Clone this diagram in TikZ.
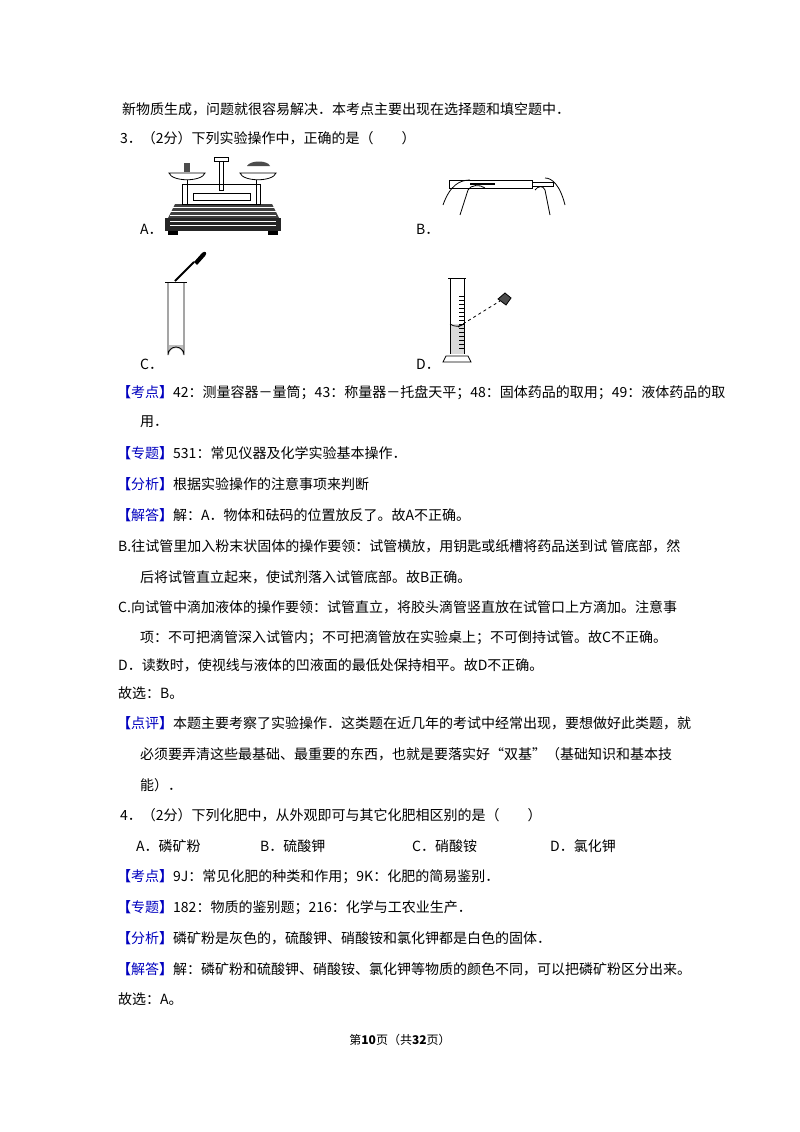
\documentclass[tikz,border=0pt]{standalone}
\usepackage{fontspec}
\setmainfont{Noto Sans CJK SC}
\begin{document}
\begin{tikzpicture}[x=1pt,y=-1pt,
  t/.style={anchor=west,inner sep=0pt,font=\fontsize{14}{16}\selectfont},
  ln/.style={line width=0.8pt}]
\useasboundingbox (0,0) rectangle (800,1132);
\fill[white] (0,0) rectangle (800,1132);
\newcommand{\tg}[1]{\textcolor{blue!75!black}{\textbf{【}#1\textbf{】}}}
\node[t] (l1) at (122,109) {新物质生成，问题就很容易解决．本考点主要出现在选择题和填空题中．};
\node[t] (l2) at (120,138) {3．（2分）下列实验操作中，正确的是（\quad\quad）};
\node[t] (oA) at (140,229) {A．};
\node[t] (oB) at (416,229) {B．};
\node[t] (oC) at (140,364) {C．};
\node[t] (oD) at (416,364) {D．};
% balance
\fill[black!75] (168,218) -- (175,204) -- (272,204) -- (279,218) -- cycle;
\fill[black!85] (165,218) rectangle (281,231);
\foreach \yy in {207,211,215,221,225} \draw[white,line width=0.6pt] (170,\yy) -- (276,\yy);
\fill (168,231) rectangle (178,235); \fill (268,231) rectangle (278,235);
\draw[ln,fill=white] (182,184) rectangle (260,204);
\draw[ln] (193,193) rectangle (250,200);
\draw[ln] (187,180) -- (187,204); \draw[ln] (256,180) -- (256,204);
\draw[ln,fill=white] (169,173) .. controls (172,182) and (202,182) .. (205,173) -- cycle;
\draw[ln,fill=white] (240,173) .. controls (243,182) and (273,182) .. (276,173) -- cycle;
\fill[black!70] (184,163) rectangle (190,172);
\fill[black!70] (247,166) .. controls (250,160) and (268,160) .. (270,166) -- cycle;
\draw[ln,fill=white] (214,157) rectangle (228,161); \draw[ln] (219,161) rectangle (223,190);
% B
\draw[ln] (449,180) rectangle (532,188);
\draw[ln] (532,182) rectangle (553,186);
\draw[line width=1.5pt] (470,184) -- (495,184);
\draw[ln] (443,205) .. controls (450,185) and (460,180) .. (470,180) (460,215) -- (468,190) .. controls (470,185) and (480,184) .. (485,188);
\draw[ln] (565,205) .. controls (560,185) and (552,178) .. (545,178) (550,215) -- (545,190) .. controls (543,185) and (538,186) .. (535,190);
% C
\fill[black!25] (169,345) -- (169,355) arc[start angle=180,end angle=360,radius=7] -- (183,345) -- cycle;
\draw[ln] (168,282) -- (168,355) arc[start angle=180,end angle=360,radius=8] -- (184,282);
\draw[ln] (165,282) -- (187,282);
\draw[line width=2pt] (175,281) -- (194,262);
\fill (194,262) -- (202,253) .. controls (205,250) and (208,253) .. (205,256) -- (197,265) -- cycle;
% D
\fill[black!15] (450,324) rectangle (464,354);
\draw[ln] (450,278) -- (450,354) (464,278) -- (464,354);
\draw[ln] (448,278) -- (466,278);
\draw[ln] (443,362) -- (446,356) -- (468,356) -- (471,362) -- cycle;
\foreach \yy in {296,300,...,350} \draw[line width=0.5pt] (459,\yy) -- (464,\yy);
\draw[ln] (450,324) .. controls (454,327) and (460,327) .. (464,324);
\draw[dashed,ln] (458,327) -- (500,301);
\draw[ln,fill=black!70] (498,299) -- (505,293) -- (511,298) -- (506,305) -- cycle;
% text
\node[t] at (117,393) {\tg{考点}42：测量容器－量筒；43：称量器－托盘天平；48：固体药品的取用；49：液体药品的取};
\node[t] at (140,422) {用．};
\node[t] at (117,453) {\tg{专题}531：常见仪器及化学实验基本操作．};
\node[t] at (117,484) {\tg{分析}根据实验操作的注意事项来判断};
\node[t] at (117,515) {\tg{解答}解：A．物体和砝码的位置放反了。故A不正确。};
\node[t] at (118,546) {B.往试管里加入粉末状固体的操作要领：试管横放，用钥匙或纸槽将药品送到试 管底部，然};
\node[t] at (140,577) {后将试管直立起来，使试剂落入试管底部。故B正确。};
\node[t] at (118,607) {C.向试管中滴加液体的操作要领：试管直立，将胶头滴管竖直放在试管口上方滴加。注意事};
\node[t] at (140,638) {项：不可把滴管深入试管内；不可把滴管放在实验桌上；不可倒持试管。故C不正确。};
\node[t] at (118,665) {D．读数时，使视线与液体的凹液面的最低处保持相平。故D不正确。};
\node[t] at (118,693) {故选：B。};
\node[t] at (117,723) {\tg{点评}本题主要考察了实验操作．这类题在近几年的考试中经常出现，要想做好此类题，就};
\node[t] at (140,754) {必须要弄清这些最基础、最重要的东西，也就是要落实好“双基”（基础知识和基本技};
\node[t] at (140,785) {能）．};
\node[t] at (120,815) {4．（2分）下列化肥中，从外观即可与其它化肥相区别的是（\quad\quad）};
\node[t] at (136,846) {A．磷矿粉};
\node[t] at (260,846) {B．硫酸钾};
\node[t] at (412,846) {C．硝酸铵};
\node[t] at (550,846) {D．氯化钾};
\node[t] at (117,877) {\tg{考点}9J：常见化肥的种类和作用；9K：化肥的简易鉴别．};
\node[t] at (117,908) {\tg{专题}182：物质的鉴别题；216：化学与工农业生产．};
\node[t] at (117,938) {\tg{分析}磷矿粉是灰色的，硫酸钾、硝酸铵和氯化钾都是白色的固体．};
\node[t] at (117,969) {\tg{解答}解：磷矿粉和硫酸钾、硝酸铵、氯化钾等物质的颜色不同，可以把磷矿粉区分出来。};
\node[t] at (118,999) {故选：A。};
\node[font=\fontsize{12}{14}\selectfont,inner sep=0pt] (ft) at (400,1040) {第\textbf{10}页（共\textbf{32}页）};
\end{tikzpicture}
\end{document}
